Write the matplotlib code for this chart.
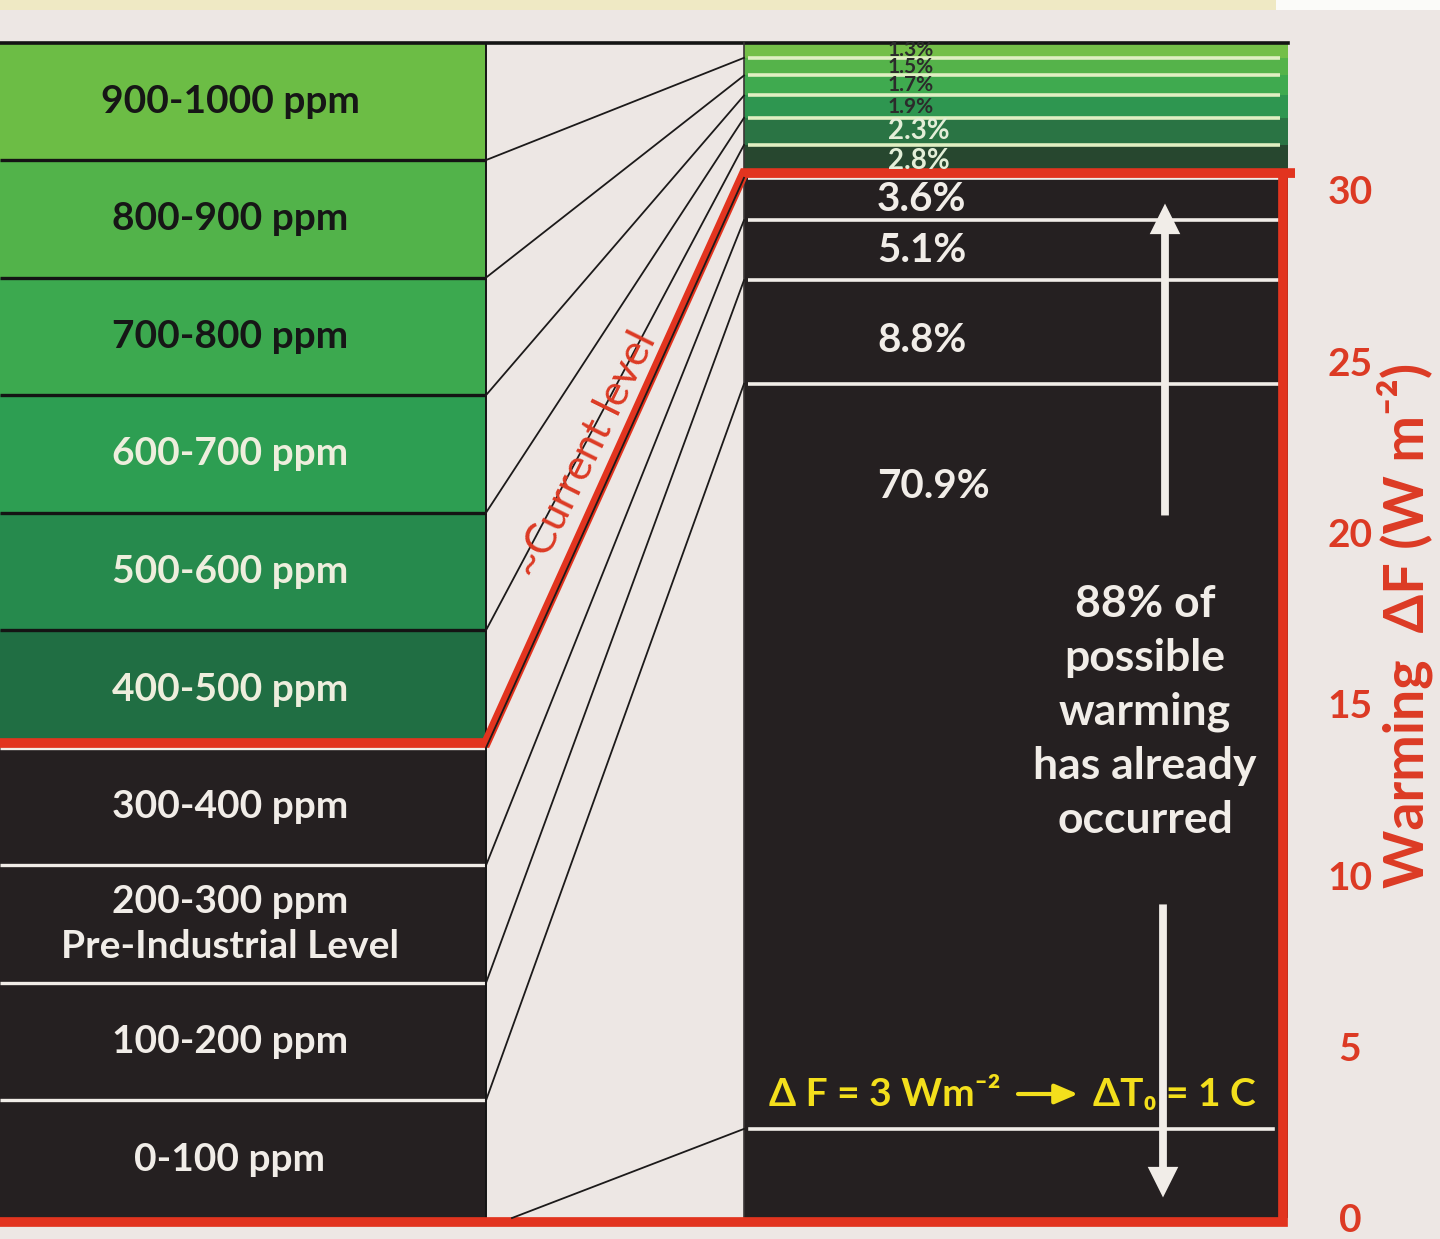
import numpy as np
import matplotlib
matplotlib.use("Agg")
import matplotlib.pyplot as plt

plt.rcParams['font.family'] = ['Lato', 'DejaVu Sans']

# ---------------- data ----------------
ppm_edges = [0, 100, 200, 300, 400, 500, 600, 700, 800, 900, 1000]
ppm_labels = ['0-100 ppm', '100-200 ppm', '200-300 ppm\nPre-Industrial Level', '300-400 ppm',
              '400-500 ppm', '500-600 ppm', '600-700 ppm', '700-800 ppm', '800-900 ppm',
              '900-1000 ppm']
warming_share_pct = [70.9, 8.8, 5.1, 3.6, 2.8, 2.3, 1.9, 1.7, 1.5, 1.3]
share_labels = ['70.9%', '8.8%', '5.1%', '3.6%', '2.8%', '2.3%', '1.9%', '1.7%', '1.5%', '1.3%']
total_forcing_wm2 = 34.3
max_ppm = 1000
current_ppm = 400
reference_forcing_wm2 = 2.6
forcing_ticks = [0, 5, 10, 15, 20, 25, 30]
forcing_axis_label = 'Warming  ΔF (W m⁻²)'
already_text = '88% of\npossible\nwarming\nhas already\noccurred'
current_text = '~Current level'
ref_text_left = 'Δ F = 3 Wm⁻²'
ref_text_right = 'ΔT₀ = 1 C'

# ---------------- layout / style ----------------
W, H = 1440, 1239
PX_PER_UNIT = 34.27
BASE_PX = 1218
LX0, LX1 = 0, 486
RX0, RX1 = 744, 1288
RED_X = 1283
PAPER = '#ede7e4'
DARK = '#252021'
RED = '#e2341f'
RED_TXT = '#dc3a24'
WHITE = '#f1ede8'
YELLOW = '#f3df1c'

left_colors = [DARK, DARK, DARK, DARK, '#206e43', '#268a4d', '#2d9e52', '#3ca94f', '#52b34a', '#6cbd45']
left_text_colors = [WHITE] * 4 + ['#eeeedd'] * 3 + ['#161616'] * 3
right_colors = [DARK, DARK, DARK, DARK, '#27472f', '#2a7444', '#2e9650', '#3faa4f', '#55b34a', '#74bf48']
right_text_colors = [WHITE] * 4 + ['#e3eed8', '#e3eed8'] + ['#2b2b2b'] * 4
right_text_sizes = [29, 29, 29, 29, 20, 20, 15, 15, 15, 15]

fig = plt.figure(figsize=(W / 100, H / 100), dpi=100, facecolor=PAPER)
ax = fig.add_axes([0, 0, 1, 1])
ax.set_xlim(0, W)
ax.set_ylim(-(H - BASE_PX) / PX_PER_UNIT, BASE_PX / PX_PER_UNIT)
ax.axis('off')
ax.set_facecolor(PAPER)

left_y = np.array(ppm_edges, dtype=float) / max_ppm * total_forcing_wm2
cum = np.concatenate([[0.0], np.cumsum(warming_share_pct)])
right_y = cum / cum[-1] * total_forcing_wm2
top = left_y[-1]
cur_i = ppm_edges.index(current_ppm)
yl_cur, yr_cur = left_y[cur_i], right_y[cur_i]

# top strip (outside the paper)
ymax = ax.get_ylim()[1]
ax.fill_between([0, 1276], ymax - 10 / PX_PER_UNIT, ymax, color='#efe9c4', lw=0, zorder=0)
ax.fill_between([1276, W], ymax - 10 / PX_PER_UNIT, ymax, color='#fbfbf9', lw=0, zorder=0)

# left column bands
ax.bar((LX0 + LX1) / 2, np.diff(left_y), bottom=left_y[:-1], width=LX1 - LX0,
       color=left_colors, linewidth=0, zorder=1)
# right column segments
ax.bar((RX0 + RX1) / 2, np.diff(right_y), bottom=right_y[:-1], width=RX1 - RX0,
       color=right_colors, linewidth=0, zorder=1)

# separators
for k in range(1, len(ppm_edges) - 1):
    if k == cur_i or left_colors[k] == DARK:
        c = WHITE
    else:
        c = '#141414'
    ax.plot([LX0, LX1], [left_y[k], left_y[k]], color=c, lw=2.4, zorder=2,
            solid_capstyle='butt')
for k in range(1, len(right_y) - 1):
    c = WHITE if right_colors[k - 1] == DARK else '#e0efc2'
    ax.plot([RX0 + 4, RX1 - 8], [right_y[k], right_y[k]], color=c, lw=2.6, zorder=2,
            solid_capstyle='butt')
# reference forcing line in right column
ax.plot([RX0 + 6, RED_X - 10], [reference_forcing_wm2] * 2, color=WHITE, lw=2.6, zorder=2)

# top border and column edges
ax.plot([LX0, RX1], [top, top], color='#141414', lw=2.6, zorder=3)
ax.plot([LX1, LX1], [0, top], color='#141414', lw=1.4, zorder=3)
ax.plot([RX0, RX0], [0, top], color='#3a3535', lw=1.2, zorder=3)

# connector lines
for k in range(1, len(ppm_edges) - 1):
    ax.plot([LX1, RX0], [left_y[k], right_y[k]], color='#1c1a1a', lw=1.3, zorder=5)
ax.plot([LX1 + 26, RX0], [0, reference_forcing_wm2], color='#1c1a1a', lw=1.3, zorder=5)

# red "current level" outline
off = 0.14
bot = -0.12
ax.plot([LX0, LX1, RX0, RED_X + 12], [yl_cur + off, yl_cur + off, yr_cur + off, yr_cur + off],
        color=RED, lw=7, zorder=4, solid_joinstyle='miter', solid_capstyle='butt')
ax.plot([RED_X, RED_X, LX0], [yr_cur + off, bot, bot], color=RED, lw=7, zorder=4,
        solid_joinstyle='miter', solid_capstyle='butt')

# left labels
for k, lab in enumerate(ppm_labels):
    yc = (left_y[k] + left_y[k + 1]) / 2
    ax.text(230, yc, lab, ha='center', va='center', fontsize=28, fontweight='bold',
            color=left_text_colors[k], linespacing=1.35, zorder=6)

# right labels
for k, lab in enumerate(share_labels):
    yc = (right_y[k] + right_y[k + 1]) / 2
    if k == 0:
        yc = right_y[1] - 3.0
    elif k == 1:
        yc = yc - 0.25
    x = 877 if k < 4 else 888
    ax.text(x, yc, lab, ha='left', va='center', fontsize=right_text_sizes[k],
            fontweight='bold', color=right_text_colors[k], zorder=6)

# "~Current level"
p1 = ax.transData.transform((LX1, yl_cur))
p2 = ax.transData.transform((RX0, yr_cur))
ang = np.degrees(np.arctan2(p2[1] - p1[1], p2[0] - p1[0])) - 2
ax.text(586, (BASE_PX - 455) / PX_PER_UNIT, current_text, rotation=ang, rotation_mode='anchor',
        ha='center', va='center', fontsize=31, color=RED_TXT, zorder=6)

# arrows
arrow_style = 'simple,head_length=0.55,head_width=0.55,tail_width=0.14'
ax.annotate('', xy=(1165, yr_cur - 0.75), xytext=(1165, 20.5),
            arrowprops=dict(arrowstyle=arrow_style, mutation_scale=40, fc=WHITE, ec='none',
                            shrinkA=0, shrinkB=0), zorder=6)
ax.annotate('', xy=(1163, 0.6), xytext=(1163, 9.15),
            arrowprops=dict(arrowstyle=arrow_style, mutation_scale=40, fc=WHITE, ec='none',
                            shrinkA=0, shrinkB=0), zorder=6)

ax.text(1145, (BASE_PX - 712) / PX_PER_UNIT, already_text, ha='center', va='center',
        fontsize=32, fontweight='bold', color=WHITE, linespacing=1.42, zorder=6)

# reference relation in yellow
yref = (BASE_PX - 1094) / PX_PER_UNIT
ax.text(769, yref, ref_text_left, ha='left', va='center', fontsize=28, fontweight='bold',
        color=YELLOW, zorder=7)
ax.annotate('', xy=(1078, yref), xytext=(1018, yref),
            arrowprops=dict(arrowstyle='-|>,head_length=0.7,head_width=0.3', lw=3,
                            color=YELLOW, mutation_scale=20, shrinkA=0, shrinkB=0), zorder=7)
ax.text(1093, yref, ref_text_right, ha='left', va='center', fontsize=28, fontweight='bold',
        color=YELLOW, zorder=7)

# right axis
ax2 = fig.add_axes([RED_X / W, 0, 10 / W, 1])
ax2.set_ylim(ax.get_ylim())
ax2.patch.set_visible(False)
for s in ax2.spines.values():
    s.set_visible(False)
ax2.set_xticks([])
ax2.yaxis.tick_right()
ax2.set_yticks(forcing_ticks)
ax2.set_yticklabels([str(t) for t in forcing_ticks])
ax2.tick_params(axis='y', length=0, pad=41, labelsize=28, labelcolor=RED_TXT)
for lab in ax2.get_yticklabels():
    lab.set_ha('center')
    lab.set_fontweight('bold')

ax.text(1405, (BASE_PX - 625) / PX_PER_UNIT, forcing_axis_label, rotation=90, ha='center',
        va='center', fontsize=40, fontweight='bold', color=RED_TXT, zorder=6)

fig.savefig('out.png', dpi=100, facecolor=PAPER)
